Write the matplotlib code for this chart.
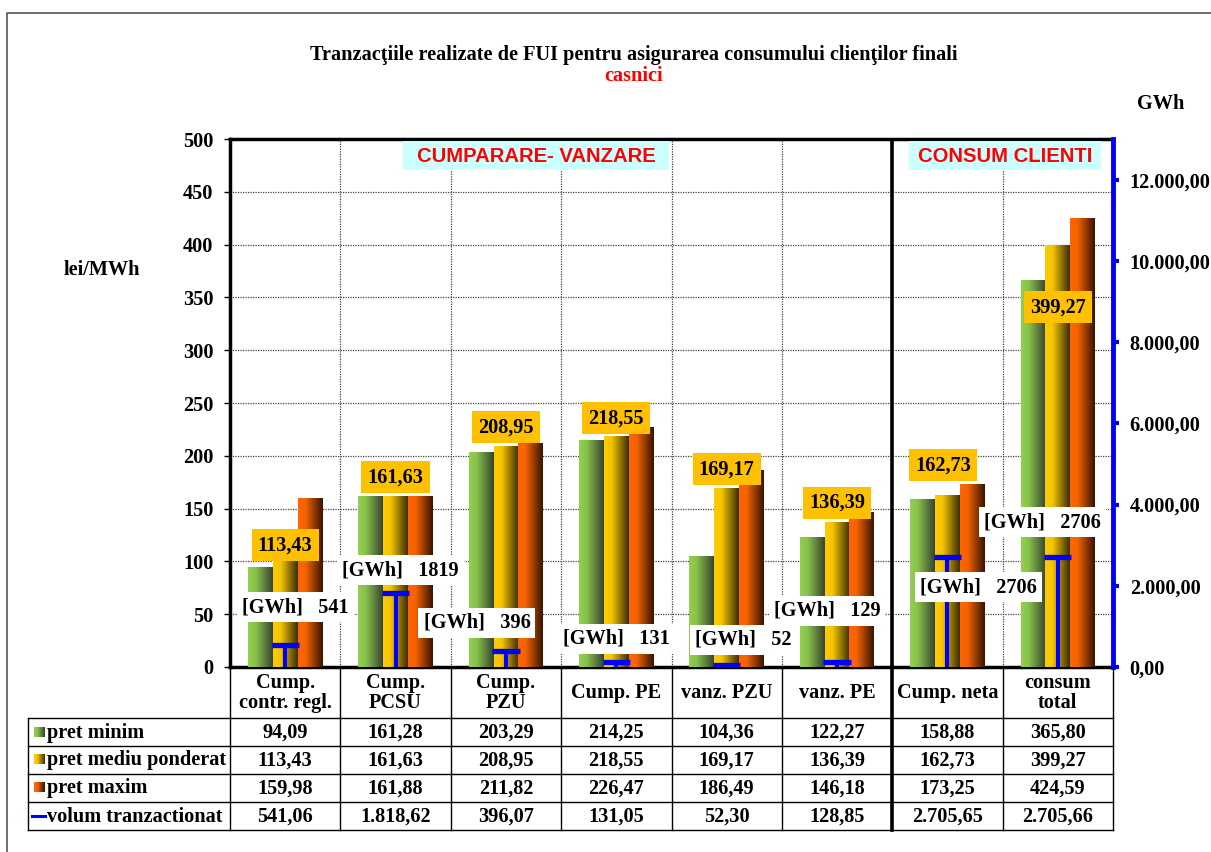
import numpy as np
import matplotlib
matplotlib.use("Agg")
import matplotlib.pyplot as plt
from matplotlib.colors import LinearSegmentedColormap
from matplotlib.patches import Rectangle

FS = 14.6
plt.rcParams["font.family"] = ["Liberation Serif", "DejaVu Serif"]
plt.rcParams["font.weight"] = "bold"
plt.rcParams["font.size"] = FS

# ---- data ----
categories = ["Cump.\ncontr. regl.", "Cump.\nPCSU", "Cump.\nPZU", "Cump. PE",
              "vanz. PZU", "vanz. PE", "Cump. neta", "consum\ntotal"]
pret_minim = [94.09, 161.28, 203.29, 214.25, 104.36, 122.27, 158.88, 365.80]
pret_mediu = [113.43, 161.63, 208.95, 218.55, 169.17, 136.39, 162.73, 399.27]
pret_maxim = [159.98, 161.88, 211.82, 226.47, 186.49, 146.18, 173.25, 424.59]
volum = [541.06, 1818.62, 396.07, 131.05, 52.30, 128.85, 2705.65, 2705.66]
series_names = ["pret minim", "pret mediu ponderat", "pret maxim", "volum tranzactionat"]
left_ticks = list(range(0, 501, 50))
right_ticks = list(range(0, 12001, 2000))

# label offsets in pixels (dx, dy) relative to data point
mean_lbl_off = [(0, 2), (0, 19), (0, 19), (0, 18), (0, 19), (0, 20), (-4, 30), (0, -62)]
vol_lbl_off = [(10, 38), (5, 23), (-29, 28), (0, 23), (17, 25), (-10, 51), (31, -30), (-15, 35)]


def ro(v, dec=2):
    s = f"{v:,.{dec}f}"
    return s.replace(",", "X").replace(".", ",").replace("X", ".")


W, H = 1211, 852
fig = plt.figure(figsize=(W / 100, H / 100), dpi=100)
L, R, T, B = 230, 1113, 139, 667
ax = fig.add_axes([L / W, 1 - B / H, (R - L) / W, (B - T) / H])
ax2 = ax.twinx()

x = np.arange(len(categories))
w = 0.225

cmaps = [
    LinearSegmentedColormap.from_list("g", [(0, "#92D050"), (0.3, "#88C24A"), (1, "#384530")]),
    LinearSegmentedColormap.from_list("y", [(0, "#FFCC00"), (0.3, "#F5C400"), (1, "#3A2E08")]),
    LinearSegmentedColormap.from_list("o", [(0, "#FF6600"), (0.3, "#F56200"), (1, "#381400")]),
]
grad = np.linspace(0, 1, 64).reshape(1, -1)

for k, vals in enumerate([pret_minim, pret_mediu, pret_maxim]):
    bars = ax.bar(x + (k - 1) * w, vals, w, color="none", edgecolor="none", zorder=3)
    for b in bars:
        ax.imshow(grad, cmap=cmaps[k], aspect="auto", interpolation="bilinear",
                  extent=[b.get_x(), b.get_x() + b.get_width(), 0, b.get_height()], zorder=3)

ax.set_xlim(-0.5, len(categories) - 0.5)
ax.set_ylim(0, 500)
ax.set_yticks(left_ticks)
ax.set_xticks([])
ax.yaxis.grid(True, linestyle=(0, (1, 1)), color="#444444", lw=0.9, zorder=1)
ax.set_axisbelow(True)
for xb in np.arange(0.5, len(categories) - 0.5):
    if xb == 5.5:
        ax.axvline(xb, color="black", lw=2.6, zorder=2)
    else:
        ax.axvline(xb, color="#444444", lw=0.9, ls=(0, (1, 1)), zorder=1)
for s in ["left", "top", "bottom"]:
    ax.spines[s].set_linewidth(2.5)
    ax.spines[s].set_color("black")
ax.spines["right"].set_visible(False)
ax.tick_params(axis="y", length=4, width=1, pad=8, labelsize=FS, direction="out")

# volume series on secondary axis
blue = "#0000FF"
ax2.vlines(x, 0, volum, color=blue, lw=2.9, zorder=4)
ax2.hlines(volum, x - w * 0.55, x + w * 0.55, color=blue, lw=3.8, zorder=4)
ax2.set_ylim(0, 13000)
ax2.set_yticks(right_ticks)
ax2.set_yticklabels([ro(v) for v in right_ticks])
for s in ["left", "top", "bottom"]:
    ax2.spines[s].set_visible(False)
ax2.spines["right"].set_color(blue)
ax2.spines["right"].set_linewidth(3.5)
ax2.tick_params(axis="y", colors=blue, length=4, width=3, pad=8, labelsize=FS, labelcolor="black")

for i in range(len(categories)):
    dx, dy = mean_lbl_off[i]
    ax2.annotate(ro(pret_mediu[i]), xy=(x[i], pret_mediu[i] * 26),
                 xytext=(dx, dy), textcoords="offset pixels", ha="center", va="center",
                 fontsize=FS, fontweight="bold", zorder=6,
                 bbox=dict(boxstyle="square,pad=0.3", fc="#FFC000", ec="none"))
    dx, dy = vol_lbl_off[i]
    ax2.annotate(f"[GWh]   {volum[i]:.0f}", xy=(x[i], volum[i]),
                 xytext=(dx, dy), textcoords="offset pixels", ha="center", va="center",
                 fontsize=FS, fontweight="bold", zorder=7,
                 bbox=dict(boxstyle="square,pad=0.25", fc="white", ec="none"))

# ---- overlay (pixel coordinates) ----
ov = fig.add_axes([0, 0, 1, 1])
ov.set_xlim(0, W)
ov.set_ylim(H, 0)
ov.set_axis_off()

# outer frame
ov.plot([7, 7, W], [H, 13, 13], color="#555555", lw=1.2)

fig.text(634 / W, 1 - 55 / H,
         "Tranzacţiile realizate de FUI pentru asigurarea consumului clienţilor finali",
         ha="center", va="center", fontsize=FS, fontweight="bold")
fig.text(634 / W, 1 - 76 / H, "casnici", ha="center", va="center",
         fontsize=FS, fontweight="bold", color="red")
fig.text(102 / W, 1 - 270 / H, "lei/MWh", ha="center", va="center", fontsize=FS, fontweight="bold")
fig.text(1161 / W, 1 - 104 / H, "GWh", ha="center", va="center", fontsize=FS, fontweight="bold")

for (x0, x1, txt) in [(403, 669, "CUMPARARE- VANZARE"), (909, 1101, "CONSUM CLIENTI")]:
    ov.add_patch(Rectangle((x0, 141), x1 - x0, 29, fc="#CCFFFF", ec="none", zorder=5))
    ov.text((x0 + x1) / 2, 156, txt, ha="center", va="center", color="#FF0000",
            fontsize=FS, fontweight="bold", family=["Liberation Sans", "DejaVu Sans"], zorder=6)

# data table
colw = (R - L) / len(categories)
rows_y = [667, 718, 745.5, 773.5, 801.5, 829.5]
for yy in rows_y[1:]:
    ov.plot([28, R], [yy, yy], color="black", lw=1.0)
ov.plot([28, 28], [718, 829.5], color="black", lw=1.0)
for j in range(len(categories) + 1):
    xx = L + j * colw
    if j == 6:
        ov.plot([xx, xx], [667, 829.5], color="black", lw=2.6)
    else:
        ov.plot([xx, xx], [667, 829.5], color="black", lw=1.0)

for j, c in enumerate(categories):
    ov.text(L + (j + 0.5) * colw, 693, c, ha="center", va="center",
            fontsize=FS, fontweight="bold", linespacing=1.0)

table_rows = [pret_minim, pret_mediu, pret_maxim, volum]
for r, vals in enumerate(table_rows):
    yc = (rows_y[r + 1] + rows_y[r + 2]) / 2
    for j, v in enumerate(vals):
        ov.text(L + (j + 0.5) * colw, yc + 1, ro(v), ha="center", va="center",
                fontsize=FS, fontweight="bold")
    ov.text(47, yc + 1, series_names[r], ha="left", va="center", fontsize=FS, fontweight="bold")
    if r < 3:
        ov.imshow(grad, cmap=cmaps[r], aspect="auto", interpolation="bilinear",
                  extent=[34, 45, yc + 5, yc - 5], zorder=5)
    else:
        ov.plot([32, 45], [yc, yc], color=blue, lw=2.2)
ov.set_xlim(0, W)
ov.set_ylim(H, 0)

fig.savefig("out.png", dpi=100)
